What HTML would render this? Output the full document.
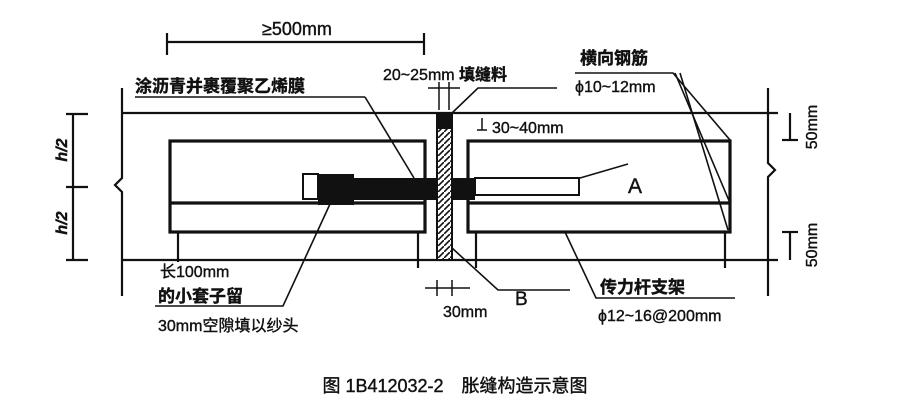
<!DOCTYPE html>
<html><head><meta charset="utf-8"><style>
html,body{margin:0;padding:0;background:#fff;width:911px;height:415px;overflow:hidden}
svg text{font-family:"Liberation Sans","Noto Sans CJK SC",sans-serif;fill:#111;stroke:#111;stroke-width:0.4}
</style></head><body>
<svg width="911" height="415" viewBox="0 0 911 415" xmlns="http://www.w3.org/2000/svg">
<defs><pattern id="h" width="6" height="6" patternUnits="userSpaceOnUse"><rect width="6" height="6" fill="#fff"/><path d="M0 6 L6 0" stroke="#111" stroke-width="1.6"/></pattern></defs>
<g stroke="#111" fill="none" stroke-width="2.2">
<line x1="122" y1="113" x2="778" y2="113"/>
<line x1="122" y1="260" x2="778" y2="260"/>
<polyline points="122,88 122,178 115,185 122,192 122,296"/>
<polyline points="768,88 768,163 775,170 768,177 768,296"/>
<line x1="73" y1="114" x2="73" y2="260"/>
<line x1="66" y1="114" x2="88" y2="114"/><line x1="66" y1="187" x2="88" y2="187"/><line x1="66" y1="260" x2="88" y2="260"/>
<rect x="170" y="141" width="255" height="91" stroke-width="3.2"/>
<line x1="170" y1="203" x2="425" y2="203" stroke-width="3.2"/>
<line x1="178" y1="232" x2="178" y2="262"/><line x1="418" y1="232" x2="418" y2="268"/>
<rect x="468" y="141" width="262" height="91" stroke-width="3.2"/>
<line x1="468" y1="203" x2="730" y2="203" stroke-width="3.2"/>
<line x1="476" y1="232" x2="476" y2="268"/><line x1="725" y1="232" x2="725" y2="268"/>
<line x1="167" y1="42" x2="424" y2="42"/><line x1="167" y1="33" x2="167" y2="55"/><line x1="424" y1="33" x2="424" y2="55"/>
<line x1="790" y1="113" x2="790" y2="140"/><line x1="782" y1="140" x2="798" y2="140"/>
<line x1="790" y1="232" x2="790" y2="260"/><line x1="782" y1="232" x2="798" y2="232"/>
<line x1="428" y1="88" x2="460" y2="88" stroke-width="1.5"/><line x1="439" y1="82" x2="439" y2="110" stroke-width="1.5"/><line x1="449" y1="82" x2="449" y2="110" stroke-width="1.5"/>
<line x1="482" y1="118" x2="482" y2="130" stroke-width="1.5"/><line x1="477" y1="130" x2="487" y2="130" stroke-width="1.5"/>
<line x1="425" y1="288" x2="470" y2="288" stroke-width="1.5"/><line x1="437" y1="280" x2="437" y2="296" stroke-width="1.5"/><line x1="452" y1="280" x2="452" y2="296" stroke-width="1.5"/>
<g stroke-width="1.6">
<line x1="135" y1="97" x2="365" y2="97"/><line x1="365" y1="97" x2="414" y2="178"/>
<polyline points="452,113 478,88 557,88"/>
<polyline points="575,73 673,73 730,140"/><line x1="675" y1="73" x2="730" y2="203"/><line x1="680" y1="73" x2="728" y2="230"/>
<line x1="580" y1="178" x2="628" y2="164"/>
<polyline points="452,248 498,290 570,290"/>
<polyline points="565,232 596,298 735,298"/>
<polyline points="330,204 283,306 155,306"/>
</g>
</g>
<rect x="318" y="174" width="36" height="31" fill="#111"/>
<rect x="303" y="174" width="15" height="25" fill="#fff" stroke="#111" stroke-width="2"/>
<rect x="350" y="178" width="125" height="22" fill="#111"/>
<rect x="475" y="178" width="104" height="17" fill="#fff" stroke="#111" stroke-width="2"/>
<rect x="437" y="113" width="15" height="147" fill="url(#h)" stroke="#111" stroke-width="2"/>
<rect x="437" y="113" width="15" height="16" fill="#111"/>
<text x="262" y="35" font-size="18">≥500mm</text>
<text x="135" y="92" font-size="17" font-weight="bold">涂沥青并裹覆聚乙烯膜</text>
<text x="383" y="80" font-size="16">20~25mm <tspan font-weight="bold">填缝料</tspan></text>
<text x="580" y="64" font-size="17" font-weight="bold">横向钢筋</text>
<text x="575" y="92" font-size="16">ϕ10~12mm</text>
<text x="492" y="133" font-size="16">30~40mm</text>
<text x="628" y="193" font-size="21">A</text>
<text x="515" y="305" font-size="19">B</text>
<text x="443" y="317" font-size="16">30mm</text>
<text x="600" y="293" font-size="17" font-weight="bold">传力杆支架</text>
<text x="598" y="321" font-size="16">ϕ12~16@200mm</text>
<text x="160" y="277" font-size="16">长100mm</text>
<text x="158" y="302" font-size="17" font-weight="bold">的小套子留</text>
<text x="158" y="331" font-size="16">30mm空隙填以纱头</text>
<text transform="translate(67,150) rotate(-90)" font-size="16" text-anchor="middle" font-style="italic" font-weight="bold">h/2</text>
<text transform="translate(67,223) rotate(-90)" font-size="16" text-anchor="middle" font-style="italic" font-weight="bold">h/2</text>
<text transform="translate(817,127) rotate(-90)" font-size="16" text-anchor="middle">50mm</text>
<text transform="translate(817,245) rotate(-90)" font-size="16" text-anchor="middle">50mm</text>
<text x="455" y="392" font-size="18" text-anchor="middle">图 1B412032-2　胀缝构造示意图</text>
</svg>
</body></html>
